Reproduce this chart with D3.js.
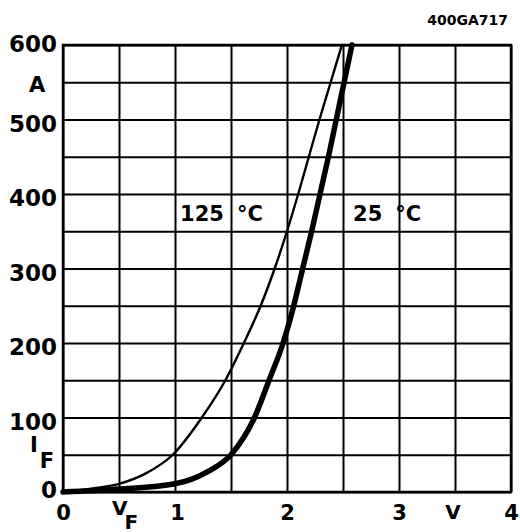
<!DOCTYPE html>
<html>
<head>
<meta charset="utf-8">
<script src="https://cdn.jsdelivr.net/npm/d3@7"></script>
<style>
  html, body { margin: 0; padding: 0; background: #fff; }
  svg { display: block; }
  text { font-family: "DejaVu Sans", sans-serif; font-weight: bold; fill: #000; }
</style>
</head>
<body>
<script>
// Forward characteristic I_F = f(V_F)
const xTickValues = [0, 1, 2, 3, 4];
const yTickValues = [0, 100, 200, 300, 400, 500, 600];
const xGridValues = [0, 0.5, 1, 1.5, 2, 2.5, 3, 3.5, 4];
const yGridValues = [0, 50, 100, 150, 200, 250, 300, 350, 400, 450, 500, 550, 600];

// 125 °C curve (thin)
const hotV = [0, 0.33, 0.5, 0.74, 0.98, 1.24, 1.45, 1.615, 1.765, 1.89, 2.00, 2.10, 2.195, 2.29, 2.39, 2.49];
const hotI = [0, 6, 11, 25, 50, 100, 150, 200, 250, 300, 350, 400, 450, 500, 550, 600];
// 25 °C curve (thick)
const coldV = [0, 0.5, 1.0, 1.3, 1.5, 1.71, 1.84, 1.965, 2.06, 2.14, 2.22, 2.295, 2.37, 2.44, 2.51, 2.58];
const coldI = [0, 4, 11, 28, 50, 100, 150, 200, 250, 300, 350, 400, 450, 500, 550, 600];

const curveLabels = [
  { value: "125", unit: "°C", v: 1.045, i: 375 },
  { value: "25", unit: "°C", v: 2.59, i: 375 }
];
const docCode = "400GA717";

const W = 520, H = 532;
const margin = { left: 63, top: 45, right: 9, bottom: 40 };
const width = W - margin.left - margin.right;
const height = H - margin.top - margin.bottom;

const svg = d3.select("body").append("svg").attr("width", W).attr("height", H);
const g = svg.append("g").attr("transform", `translate(${margin.left},${margin.top})`);

const x = d3.scaleLinear().domain([0, 4]).range([0, width]);
const y = d3.scaleLinear().domain([0, 600]).range([height, 0]);

// grid
g.append("g")
  .attr("transform", `translate(0,${height})`)
  .call(d3.axisBottom(x).tickValues(xGridValues).tickSize(-height).tickFormat(""))
  .call(a => a.select(".domain").remove())
  .call(a => a.selectAll("line").attr("stroke", "#000").attr("stroke-width", 2));
g.append("g")
  .call(d3.axisLeft(y).tickValues(yGridValues).tickSize(-width).tickFormat(""))
  .call(a => a.select(".domain").remove())
  .call(a => a.selectAll("line").attr("stroke", "#000").attr("stroke-width", 2));

// frame
g.append("rect").attr("x", 0).attr("y", 0).attr("width", width).attr("height", height)
  .attr("fill", "none").attr("stroke", "#000").attr("stroke-width", 2.5);

// y tick labels
const yAxis = g.append("g")
  .call(d3.axisLeft(y).tickValues(yTickValues).tickSize(0).tickPadding(6).tickFormat(d3.format("d")))
  .call(a => a.select(".domain").remove());
yAxis.selectAll("text")
  .attr("font-size", 23).attr("font-family", "DejaVu Sans, sans-serif").attr("font-weight", "bold")
  .attr("dy", d => d === 600 ? "0.29em" : d === 0 ? "0.25em" : "0.5em");

// x tick labels
const xAxis = g.append("g")
  .attr("transform", `translate(0,${height})`)
  .call(d3.axisBottom(x).tickValues(xTickValues).tickSize(0).tickPadding(13).tickFormat(d3.format("d")))
  .call(a => a.select(".domain").remove());
xAxis.selectAll("text")
  .attr("font-size", 21).attr("font-family", "DejaVu Sans, sans-serif").attr("font-weight", "bold")
  .attr("dx", d => d === 1 ? 2 : 0);

// axis unit and symbol labels
g.append("text").attr("x", -26).attr("y", y(550)).attr("dy", "0.48em")
  .attr("text-anchor", "middle").attr("font-size", 21).text("A");
g.append("text").attr("x", x(3.5) - 2).attr("y", height + 27)
  .attr("text-anchor", "middle").attr("font-size", 20).text("V");

const iF = g.append("text").attr("x", -33).attr("y", y(50) - 3).attr("font-size", 21);
iF.append("tspan").text("I");
iF.append("tspan").attr("dx", 2).attr("dy", 16).text("F");

const vF = g.append("text").attr("x", x(0.5) - 7).attr("y", height + 23).attr("font-size", 20);
vF.append("tspan").text("V");
vF.append("tspan").attr("dx", -3).attr("dy", 13.5).text("F");

// curves
const line = d3.line().x(d => x(d[0])).y(d => y(d[1])).curve(d3.curveMonotoneX);
g.append("path").datum(hotV.map((v, k) => [v, hotI[k]]))
  .attr("d", line).attr("fill", "none").attr("stroke", "#000").attr("stroke-width", 2.4)
  .attr("stroke-linecap", "round");
g.append("path").datum(coldV.map((v, k) => [v, coldI[k]]))
  .attr("d", line).attr("fill", "none").attr("stroke", "#000").attr("stroke-width", 5.5)
  .attr("stroke-linecap", "round");

// curve labels
curveLabels.forEach(l => {
  const t = g.append("text").attr("x", x(l.v)).attr("y", y(l.i)).attr("dy", "0.4em").attr("font-size", 21);
  t.append("tspan").text(l.value);
  t.append("tspan").attr("dx", 13).text(l.unit);
});

// document reference code
svg.append("text").attr("x", 508).attr("y", 25).attr("text-anchor", "end")
  .attr("font-size", 14).text(docCode);
</script>
</body>
</html>
